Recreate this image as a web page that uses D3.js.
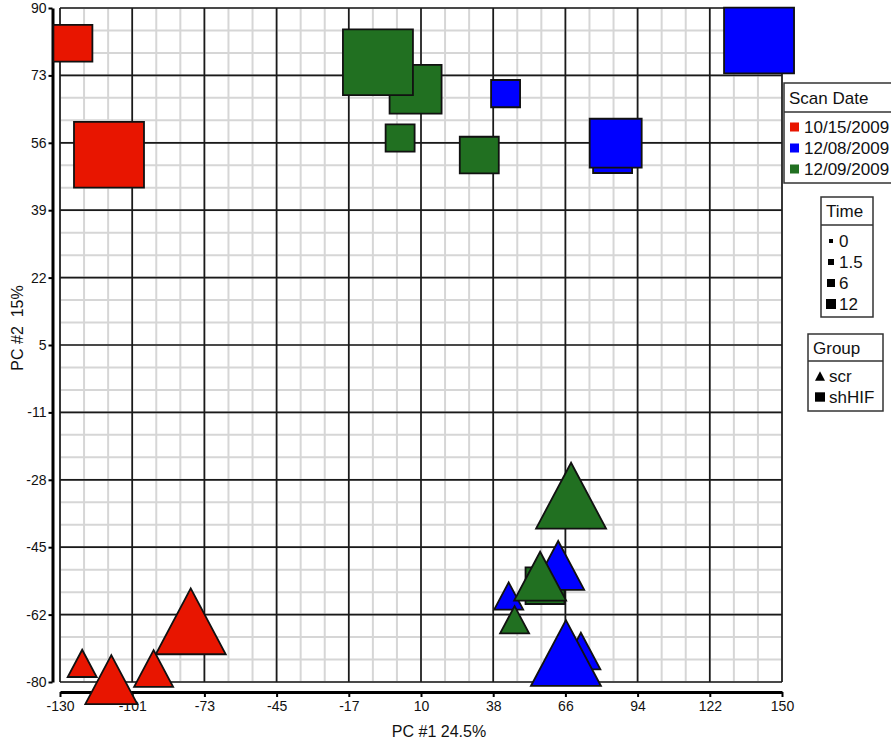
<!DOCTYPE html>
<html>
<head>
<meta charset="utf-8">
<script src="https://cdn.jsdelivr.net/npm/d3@7"></script>
<style>
  html, body { margin: 0; padding: 0; background: #fff; }
  svg { display: block; font-family: Arial, "Liberation Sans", sans-serif; }
</style>
</head>
<body>
<svg id="chart" width="891" height="744"></svg>
<script>
// ---------------- data ----------------
const scanDates = ["10/15/2009", "12/08/2009", "12/09/2009"];
const timePoints = [0, 1.5, 6, 12];
const groupNames = ["scr", "shHIF"];

// samples (drawing order = list order)
const sampleDate  = ["10/15/2009","10/15/2009","12/09/2009","12/09/2009","12/09/2009","12/09/2009","12/09/2009","12/08/2009","12/08/2009","12/08/2009","12/08/2009",
                     "10/15/2009","10/15/2009","10/15/2009","10/15/2009","12/08/2009","12/08/2009","12/09/2009","12/09/2009","12/09/2009","12/08/2009","12/08/2009"];
const sampleGroup = ["shHIF","shHIF","shHIF","shHIF","shHIF","shHIF","shHIF","shHIF","shHIF","shHIF","shHIF",
                     "scr","scr","scr","scr","scr","scr","scr","scr","scr","scr","scr"];
const sampleTime  = [1.5, 12, 6, 12, 0, 1.5, 1.5, 0, 1.5, 6, 12,
                     0, 6, 12, 1.5, 6, 0, 6, 0, 12, 1.5, 12];
const pc1 = [-125.0, -111.0, 7.9, -6.7, 1.9, 32.6, 58.1, 42.8, 84.3, 85.5, 141.1,
             -121.4, -110.1, -79.3, -93.7, 63.2, 44.0, 56.2, 46.3, 68.2, 72.0, 66.2];
const pc2 = [81.1, 53.0, 69.5, 76.3, 57.2, 52.9, -55.7, 68.4, 53.0, 55.9, 81.8,
             -75.3, -79.4, -64.7, -76.6, -50.6, -58.3, -53.3, -64.3, -33.0, -72.2, -72.7];

const xTickLabels = ["-130","-101","-73","-45","-17","10","38","66","94","122","150"];
const yTickLabels = ["-80","-62","-45","-28","-11","5","22","39","56","73","90"];

// ---------------- setup ----------------
const svg = d3.select("#chart");
const xMin = -130, xMax = 150, yMin = -80, yMax = 90;
const x = d3.scaleLinear().domain([xMin, xMax]).range([60, 782]);
const y = d3.scaleLinear().domain([yMin, yMax]).range([682, 8]);

const color = d3.scaleOrdinal().domain(scanDates).range(["#e81500", "#0000ff", "#217021"]);
const size  = d3.scaleOrdinal().domain(timePoints).range([29, 39, 52, 70]);
const hRatio = 0.94;

const xTicks = d3.range(11).map(i => xMin + i * (xMax - xMin) / 10);
const yTicks = d3.range(11).map(i => yMin + i * (yMax - yMin) / 10);
const xMinor = d3.range(31).map(i => xMin + i * (xMax - xMin) / 30);
const yMinor = d3.range(31).map(i => yMin + i * (yMax - yMin) / 30);

// ---------------- grid ----------------
const grid = svg.append("g");
grid.selectAll(".vminor").data(xMinor).join("line")
  .attr("x1", d => x(d)).attr("x2", d => x(d)).attr("y1", y(yMax)).attr("y2", y(yMin))
  .attr("stroke", "#d6d6d6").attr("stroke-width", 2);
grid.selectAll(".hminor").data(yMinor).join("line")
  .attr("y1", d => y(d)).attr("y2", d => y(d)).attr("x1", x(xMin)).attr("x2", x(xMax))
  .attr("stroke", "#d6d6d6").attr("stroke-width", 2);
grid.selectAll(".vmajor").data(xTicks).join("line")
  .attr("x1", d => x(d)).attr("x2", d => x(d)).attr("y1", y(yMax)).attr("y2", y(yMin))
  .attr("stroke", "#1a1a1a").attr("stroke-width", 1.7);
grid.selectAll(".hmajor").data(yTicks).join("line")
  .attr("y1", d => y(d)).attr("y2", d => y(d)).attr("x1", x(xMin)).attr("x2", x(xMax))
  .attr("stroke", "#1a1a1a").attr("stroke-width", 1.7);

// ---------------- axes ----------------
const xAxis = d3.axisBottom(x).tickValues(xTicks).tickFormat((d, i) => xTickLabels[i])
  .tickSize(5).tickPadding(4).tickSizeOuter(0);
const gx = svg.append("g").attr("transform", "translate(0,692)").call(xAxis);
gx.select(".domain").attr("stroke", "#000").attr("stroke-width", 3);
gx.selectAll(".tick line").attr("stroke", "#000").attr("stroke-width", 2);
gx.selectAll(".tick text").attr("font-size", 14).attr("fill", "#111")
  .attr("font-family", "Arial, 'Liberation Sans', sans-serif");

const yAxis = d3.axisLeft(y).tickValues(yTicks).tickFormat((d, i) => yTickLabels[i])
  .tickSize(4).tickPadding(2).tickSizeOuter(0);
const gy = svg.append("g").attr("transform", "translate(52.5,0)").call(yAxis);
gy.select(".domain").attr("stroke", "#000").attr("stroke-width", 3);
gy.selectAll(".tick line").attr("stroke", "#000").attr("stroke-width", 2);
gy.selectAll(".tick text").attr("font-size", 14).attr("fill", "#111")
  .attr("font-family", "Arial, 'Liberation Sans', sans-serif");

svg.append("text").attr("x", 439).attr("y", 737).attr("text-anchor", "middle")
  .attr("font-size", 16).attr("fill", "#111").text("PC #1 24.5%");
svg.append("text").attr("transform", "translate(23,328) rotate(-90)").attr("text-anchor", "middle")
  .attr("font-size", 16).attr("fill", "#111").style("white-space", "pre").text("PC #2  15%");

// ---------------- markers ----------------
function shapePath(group, cx, cy, w) {
  const h = w * hRatio;
  if (group === "scr") {
    return `M${cx},${cy - h / 2}L${cx + w / 2},${cy + h / 2}L${cx - w / 2},${cy + h / 2}Z`;
  }
  return `M${cx - w / 2},${cy - h / 2}h${w}v${h}h${-w}Z`;
}
const samples = pc1.map((v, i) => ({ x: v, y: pc2[i], date: sampleDate[i], group: sampleGroup[i], time: sampleTime[i] }));
svg.append("g").selectAll("path").data(samples).join("path")
  .attr("d", d => shapePath(d.group, x(d.x), y(d.y), size(d.time)))
  .attr("fill", d => color(d.date))
  .attr("stroke", "#111").attr("stroke-width", 1.8).attr("stroke-linejoin", "miter");

// ---------------- legends ----------------
const legendFont = 17;
function legendBox(x0, y0, w, headerH, rowH, nRows, title) {
  const g = svg.append("g");
  const totalH = headerH + 8 + rowH * nRows;
  g.append("rect").attr("x", x0).attr("y", y0).attr("width", w).attr("height", totalH)
    .attr("fill", "#fff").attr("stroke", "#333").attr("stroke-width", 1.5);
  g.append("line").attr("x1", x0).attr("x2", x0 + w).attr("y1", y0 + headerH).attr("y2", y0 + headerH)
    .attr("stroke", "#333").attr("stroke-width", 1.5);
  g.append("text").attr("x", x0 + 5).attr("y", y0 + headerH / 2).attr("dy", "0.36em")
    .attr("font-size", legendFont).attr("fill", "#111").text(title);
  return g;
}
const rowH = 21;

// Scan Date
const lg1 = legendBox(784, 83, 130, 29, rowH, 3, "Scan Date");
scanDates.forEach((d, i) => {
  const cy = 83 + 29 + 15 + i * rowH;
  lg1.append("rect").attr("x", 790).attr("y", cy - 4.5).attr("width", 9).attr("height", 9).attr("fill", color(d));
  lg1.append("text").attr("x", 804).attr("y", cy).attr("dy", "0.36em").attr("font-size", legendFont).attr("fill", "#111").text(d);
});

// Time
const lg2 = legendBox(821, 197, 52, 28, rowH, 4, "Time");
timePoints.forEach((t, i) => {
  const cy = 197 + 28 + 16 + i * rowH;
  const s = [4, 6, 8, 10][i];
  lg2.append("rect").attr("x", 831 - s / 2).attr("y", cy - s / 2).attr("width", s).attr("height", s).attr("fill", "#000");
  lg2.append("text").attr("x", 839).attr("y", cy).attr("dy", "0.36em").attr("font-size", legendFont).attr("fill", "#111").text(t);
});

// Group
const lg3 = legendBox(808, 334, 75, 27, rowH, 2, "Group");
groupNames.forEach((gname, i) => {
  const cy = 334 + 27 + 15 + i * rowH;
  lg3.append("path").attr("d", shapePath(gname, 820, cy, 10)).attr("fill", "#000");
  lg3.append("text").attr("x", 829).attr("y", cy).attr("dy", "0.36em").attr("font-size", legendFont).attr("fill", "#111").text(gname);
});
</script>
</body>
</html>
